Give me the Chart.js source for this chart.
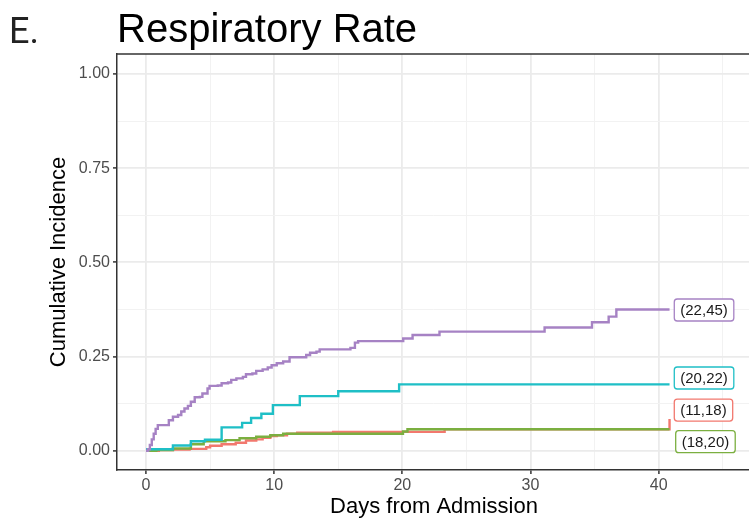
<!DOCTYPE html>
<html>
<head>
<meta charset="utf-8">
<script src="https://cdn.jsdelivr.net/npm/chart.js@4/dist/chart.umd.min.js"></script>
<style>
  html, body { margin: 0; padding: 0; background: #ffffff; }
  #wrap { width: 749px; height: 528px; }
</style>
</head>
<body>
<div id="wrap"><canvas id="c" width="749" height="528"></canvas></div>
<script>
// ---- Data ----
const seriesNames = ['(22,45)', '(20,22)', '(11,18)', '(18,20)'];

const purpleDays = [0, 0.16, 0.3, 0.45, 0.6, 0.75, 0.92, 1.78, 2.1, 2.5, 2.75, 3.0, 3.27, 3.5, 3.8, 4.2, 4.4, 4.8, 4.96, 5.6, 5.9, 6.4, 6.65, 7.05, 7.56, 7.8, 8.3, 8.6, 9.1, 9.5, 9.8, 10.2, 10.7, 11.2, 12.5, 12.8, 13.3, 13.55, 15.95, 16.3, 16.55, 17.3, 20.07, 20.8, 22.9, 31.1, 34.8, 36.1, 36.7, 40.85];
const purpleCI   = [0, 0.004, 0.015, 0.03, 0.045, 0.058, 0.068, 0.081, 0.090, 0.095, 0.104, 0.112, 0.119, 0.130, 0.142, 0.143, 0.152, 0.165, 0.172, 0.173, 0.179, 0.181, 0.188, 0.192, 0.196, 0.203, 0.205, 0.212, 0.216, 0.221, 0.227, 0.232, 0.237, 0.248, 0.254, 0.260, 0.263, 0.269, 0.273, 0.287, 0.291, 0.291, 0.298, 0.307, 0.316, 0.327, 0.341, 0.356, 0.375, 0.375];

const cyanDays = [0, 0.1, 2.1, 3.5, 4.6, 5.9, 7.5, 8.2, 9.0, 9.9, 12.0, 15.0, 19.75, 40.85];
const cyanCI   = [0, 0.004, 0.014, 0.025, 0.029, 0.062, 0.074, 0.087, 0.098, 0.121, 0.145, 0.158, 0.176, 0.176];

const redDays = [0, 1.0, 2.1, 3.4, 4.7, 5.0, 5.9, 7.0, 7.8, 8.6, 9.1, 9.7, 10.2, 11.0, 11.8, 14.6, 23.3, 40.85, 40.85];
const redCI   = [0, 0.002, 0.003, 0.005, 0.009, 0.013, 0.017, 0.021, 0.027, 0.030, 0.034, 0.039, 0.041, 0.045, 0.048, 0.050, 0.057, 0.057, 0.084];

const greenDays = [0, 0.8, 2.1, 3.5, 4.5, 6.2, 7.3, 8.6, 9.7, 10.7, 20.05, 20.4, 40.85];
const greenCI   = [0, 0.002, 0.006, 0.017, 0.025, 0.028, 0.033, 0.037, 0.041, 0.045, 0.051, 0.057, 0.057];

// label anchors (repelled label positions, data units)
const labelDay = [41.22, 41.22, 41.22, 41.33];
const labelCI  = [0.3735, 0.193, 0.108, 0.024];

// ticks
const xTickValues = [0, 10, 20, 30, 40];
const xTickLabels = ['0', '10', '20', '30', '40'];
const xMinorValues = [5, 15, 25, 35, 45];
const yTickValues = [0, 0.25, 0.5, 0.75, 1];
const yTickLabels = ['0.00', '0.25', '0.50', '0.75', '1.00'];
const yMinorValues = [0.125, 0.375, 0.625, 0.875];

// ---- Styling ----
const colors = ['#A682C4', '#1FBFC6', '#F2786E', '#7BAF40'];
const FONT = '"Liberation Sans", Arial, Helvetica, sans-serif';

function pts(xs, ys) { return xs.map((x, i) => ({ x: x, y: ys[i] })); }

const seriesData = [pts(purpleDays, purpleCI), pts(cyanDays, cyanCI), pts(redDays, redCI), pts(greenDays, greenCI)];

// Chart.js draws dataset 0 on top; ggplot order has purple on top, then cyan, green, red.
const drawOrder = [0, 1, 3, 2];
const datasets = drawOrder.map(i => ({
  label: seriesNames[i],
  data: seriesData[i],
  borderColor: colors[i],
  borderWidth: 2.4,
  pointRadius: 0,
  fill: false,
  stepped: 'before',
  tension: 0
}));

const decorPlugin = {
  id: 'decor',
  afterDatasetsDraw(chart) {
    const ctx = chart.ctx;
    const ca = chart.chartArea;
    const xs = chart.scales.x, ys = chart.scales.y;
    ctx.save();
    // top panel border
    ctx.strokeStyle = '#333333';
    ctx.lineWidth = 1.5;
    ctx.beginPath();
    ctx.moveTo(ca.left, ca.top);
    ctx.lineTo(chart.width, ca.top);
    ctx.stroke();

    // end labels
    ctx.font = '15px ' + FONT;
    ctx.textBaseline = 'middle';
    ctx.textAlign = 'left';
    for (let i = 0; i < seriesNames.length; i++) {
      const x0 = xs.getPixelForValue(labelDay[i]);
      const yc = ys.getPixelForValue(labelCI[i]);
      const tw = ctx.measureText(seriesNames[i]).width;
      const w = tw + 12, h = 22, r = 3;
      const y0 = yc - h / 2;
      ctx.beginPath();
      ctx.moveTo(x0 + r, y0);
      ctx.lineTo(x0 + w - r, y0);
      ctx.arcTo(x0 + w, y0, x0 + w, y0 + r, r);
      ctx.lineTo(x0 + w, y0 + h - r);
      ctx.arcTo(x0 + w, y0 + h, x0 + w - r, y0 + h, r);
      ctx.lineTo(x0 + r, y0 + h);
      ctx.arcTo(x0, y0 + h, x0, y0 + h - r, r);
      ctx.lineTo(x0, y0 + r);
      ctx.arcTo(x0, y0, x0 + r, y0, r);
      ctx.closePath();
      ctx.fillStyle = '#ffffff';
      ctx.fill();
      ctx.strokeStyle = colors[i];
      ctx.lineWidth = 1.3;
      ctx.stroke();
      ctx.fillStyle = '#1a1a1a';
      ctx.fillText(seriesNames[i], x0 + 6, yc + 1);
    }

    // titles
    ctx.fillStyle = '#222222';
    ctx.textBaseline = 'alphabetic';
    ctx.font = '400 36px Roboto, ' + FONT;
    ctx.fillText('E.', 9, 43);
    ctx.fillStyle = '#000000';
    ctx.font = '40px ' + FONT;
    ctx.fillText('Respiratory Rate', 117, 42);

    // axis titles
    ctx.font = '22px ' + FONT;
    ctx.textAlign = 'center';
    ctx.textBaseline = 'middle';
    ctx.fillText('Days from Admission', 434, 507);
    ctx.save();
    ctx.translate(59, (ca.top + ca.bottom) / 2);
    ctx.rotate(-Math.PI / 2);
    ctx.fillText('Cumulative Incidence', 0, 0);
    ctx.restore();
    ctx.restore();
  }
};

function isMajor(list, v) { return list.some(t => Math.abs(t - v) < 1e-9); }

function gridOpts(majors) {
  return {
    color: ctx => (ctx.tick && isMajor(majors, ctx.tick.value)) ? '#ebebeb' : '#f2f2f2',
    lineWidth: ctx => (ctx.tick && isMajor(majors, ctx.tick.value)) ? 1.8 : 1.0,
    tickColor: ctx => (ctx.tick && isMajor(majors, ctx.tick.value)) ? '#333333' : 'rgba(0,0,0,0)',
    tickWidth: 1.5,
    tickLength: 4,
    drawTicks: true
  };
}

new Chart(document.getElementById('c'), {
  type: 'line',
  data: { datasets: datasets },
  options: {
    responsive: false,
    animation: false,
    events: [],
    layout: { padding: { top: 54, right: 0, left: 0, bottom: 0 } },
    plugins: { legend: { display: false }, tooltip: { enabled: false }, title: { display: false } },
    scales: {
      x: {
        type: 'linear',
        min: -2.264,
        max: 47.05,
        afterBuildTicks(scale) {
          scale.ticks = xTickValues.concat(xMinorValues).sort((a, b) => a - b).map(v => ({ value: v }));
        },
        afterFit(scale) { scale.height = 58; },
        ticks: {
          autoSkip: false,
          maxRotation: 0,
          padding: 2,
          color: '#4d4d4d',
          font: { family: FONT, size: 16 },
          callback(value) {
            const k = xTickValues.findIndex(t => Math.abs(t - value) < 1e-9);
            return k >= 0 ? xTickLabels[k] : '';
          }
        },
        grid: gridOpts(xTickValues),
        border: { display: true, color: '#333333', width: 1.5 }
      },
      y: {
        type: 'linear',
        min: -0.0512,
        max: 1.0531,
        afterBuildTicks(scale) {
          scale.ticks = yTickValues.concat(yMinorValues).sort((a, b) => a - b).map(v => ({ value: v }));
        },
        afterFit(scale) { scale.width = 117; },
        ticks: {
          autoSkip: false,
          padding: 3,
          color: '#4d4d4d',
          font: { family: FONT, size: 16 },
          callback(value) {
            const k = yTickValues.findIndex(t => Math.abs(t - value) < 1e-9);
            return k >= 0 ? yTickLabels[k] : '';
          }
        },
        grid: gridOpts(yTickValues),
        border: { display: true, color: '#333333', width: 1.5 }
      }
    }
  },
  plugins: [decorPlugin]
});
</script>
</body>
</html>
